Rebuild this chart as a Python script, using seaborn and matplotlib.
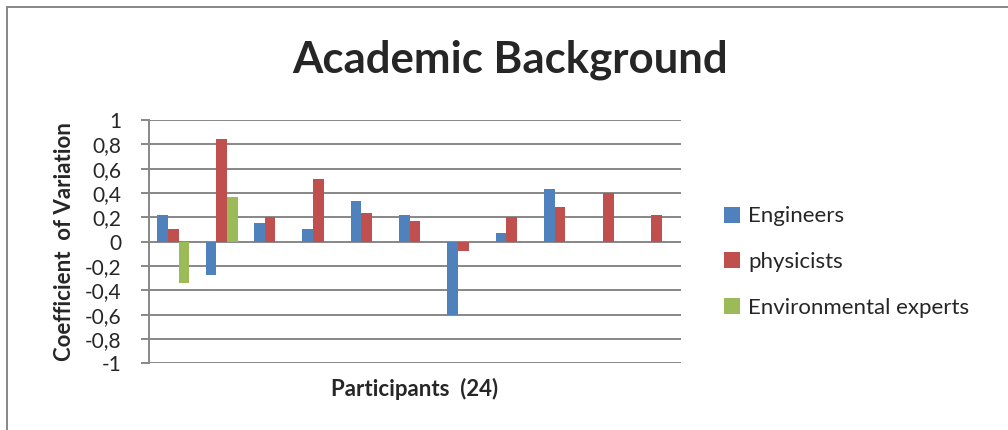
import matplotlib
matplotlib.use("Agg")
import matplotlib.pyplot as plt
import numpy as np
import pandas as pd
import seaborn as sns
from matplotlib.patches import Rectangle

# values (11 participant groups)
groups = [str(i) for i in range(1, 12)]
engineers = [0.22, -0.275, 0.153, 0.104, 0.333, 0.219, -0.60, 0.071, 0.43, np.nan, np.nan]
physicists = [0.105, 0.84, 0.20, 0.514, 0.235, 0.17, -0.074, 0.20, 0.284, 0.404, 0.219]
environmental = [-0.34, 0.366, np.nan, np.nan, np.nan, np.nan, np.nan, np.nan, np.nan, np.nan, np.nan]

series_names = ["Engineers", "physicists", "Environmental experts"]
colors = ["#4F81BD", "#C0504D", "#9BBB59"]
yticks = [-1, -0.8, -0.6, -0.4, -0.2, 0, 0.2, 0.4, 0.6, 0.8, 1]

df = pd.DataFrame({
    "group": groups * 3,
    "series": np.repeat(series_names, len(groups)),
    "value": engineers + physicists + environmental,
})

sns.set_style("white")
plt.rcParams["font.family"] = ["Lato", "DejaVu Sans"]

W, H = 1008, 430
fig = plt.figure(figsize=(W / 100, H / 100), dpi=100)
ax = fig.add_axes([149 / W, 1 - 363.3 / H, (681 - 149) / W, (363.3 - 120) / H])

sns.barplot(data=df.dropna(), x="group", y="value", hue="series", order=groups,
            hue_order=series_names, palette=colors, width=0.66, gap=0,
            saturation=1, errorbar=None, linewidth=0, ax=ax, legend=True)

ax.set_ylim(-1, 1)
ax.set_xlim(-0.5, len(groups) - 0.5)
ax.set_yticks(yticks)
ax.set_yticklabels([("%g" % t).replace(".", ",") for t in yticks], fontsize=15)
ax.set_xticks([])
ax.yaxis.grid(True, color="#878787", linewidth=1.4)
ax.set_axisbelow(True)
for side in ["top", "right", "bottom"]:
    ax.spines[side].set_visible(False)
ax.spines["left"].set_color("#878787")
ax.spines["left"].set_linewidth(1.4)
ax.tick_params(axis="y", direction="out", length=6, width=1.4, color="#878787", pad=14, left=True)

ax.set_xlabel("Participants  (24)", fontsize=16, fontweight="bold")
ax.set_ylabel("Coefficient  of Variation", fontsize=16, fontweight="bold")
ax.yaxis.set_label_coords(-0.139, 0.5)
ax.xaxis.set_label_coords(0.5, -0.06)

fig.text(510 / W, 1 - 73 / H, "Academic Background", fontsize=31.5, fontweight="bold",
         ha="center", va="baseline")

handles, labels = ax.get_legend_handles_labels()
ax.legend(handles, labels, loc="center left", bbox_to_anchor=(724 / W, 1 - 262 / H),
          bbox_transform=fig.transFigure, frameon=False, fontsize=16, borderpad=0,
          borderaxespad=0, handlelength=0.72, handleheight=0.72, handletextpad=0.38,
          labelspacing=1.15)

# outer chart border (cut off at right and bottom like the source)
fig.patches.append(Rectangle((7 / W, -0.1), 1.1, 1 - 7 / H + 0.1, transform=fig.transFigure,
                             fill=False, edgecolor="#878787", linewidth=1.4))

fig.savefig("out.png", dpi=100)
